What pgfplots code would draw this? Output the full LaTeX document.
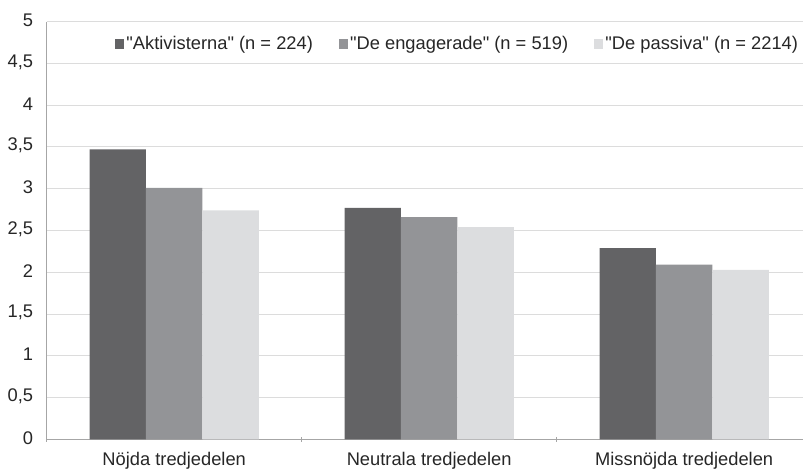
\documentclass[border=0pt]{standalone}
\usepackage{pgfplots}
\pgfplotsset{compat=1.18}
\usepackage{fontspec}
\setmainfont{Liberation Sans}
\definecolor{cA}{HTML}{636365}
\definecolor{cB}{HTML}{939497}
\definecolor{cC}{HTML}{DCDDDF}
\definecolor{grid}{HTML}{DCDCDC}
\definecolor{axl}{HTML}{A6A6A6}
\newcommand{\q}{\textquotedbl}
\begin{document}
\begin{tikzpicture}
\begin{axis}[
  scale only axis,
  width=756.3bp, height=417.6bp,
  ybar=0pt, bar width=56.4bp,
  xmin=-0.5, xmax=2.466,
  ymin=0, ymax=5,
  ytick={0,0.5,...,5},
  xtick={0,1,2},
  xticklabels={Nöjda tredjedelen, Neutrala tredjedelen, Missnöjda tredjedelen},
  minor xtick={-0.5,0.5,1.5},
  tick align=outside,
  major x tick style={draw=none},
  minor x tick style={draw=axl, line width=0.9bp},
  minor tick length=5bp,
  ytick style={draw=none},
  axis x line=bottom, axis y line=left,
  axis line style={-, draw=axl, line width=0.9bp},
  ymajorgrids, grid style={draw=grid, line width=1bp},
  /pgf/number format/assume math mode=true,
  /pgf/number format/use comma,
  tick label style={font=\fontsize{18.3bp}{22bp}\selectfont, text=black!85},
  yticklabel style={xshift=-8bp, yshift=1.5bp},
  xticklabel style={anchor=base, yshift=-24.5bp},
  legend style={at={(rel axis cs:0.0903,0.9466)}, anchor=west, draw=none, fill=none,
    font=\fontsize{18.3bp}{22bp}\selectfont, legend columns=3,
    /tikz/every even column/.append style={column sep=24bp},
    legend cell align=left, inner sep=0pt, text=black!85},
  legend image code/.code={\fill[#1] (0bp,-4.65bp) rectangle (9.3bp,4.65bp);},
  clip=false,
]
\addplot[fill=cA, draw=none] coordinates {(0,3.47) (1,2.77) (2,2.29)};
\addplot[fill=cB, draw=none] coordinates {(0,3.01) (1,2.66) (2,2.09)};
\addplot[fill=cC, draw=none] coordinates {(0,2.74) (1,2.54) (2,2.03)};
\legend{\q Aktivisterna\q{} (n = 224), \q De engagerade\q{} (n = 519), \q De passiva\q{} (n = 2214)}
\end{axis}
\pgfresetboundingbox
\path (current axis.south west) ++(-46.7bp,-30.7bp) rectangle ++(803bp,470bp);
\end{tikzpicture}
\end{document}
